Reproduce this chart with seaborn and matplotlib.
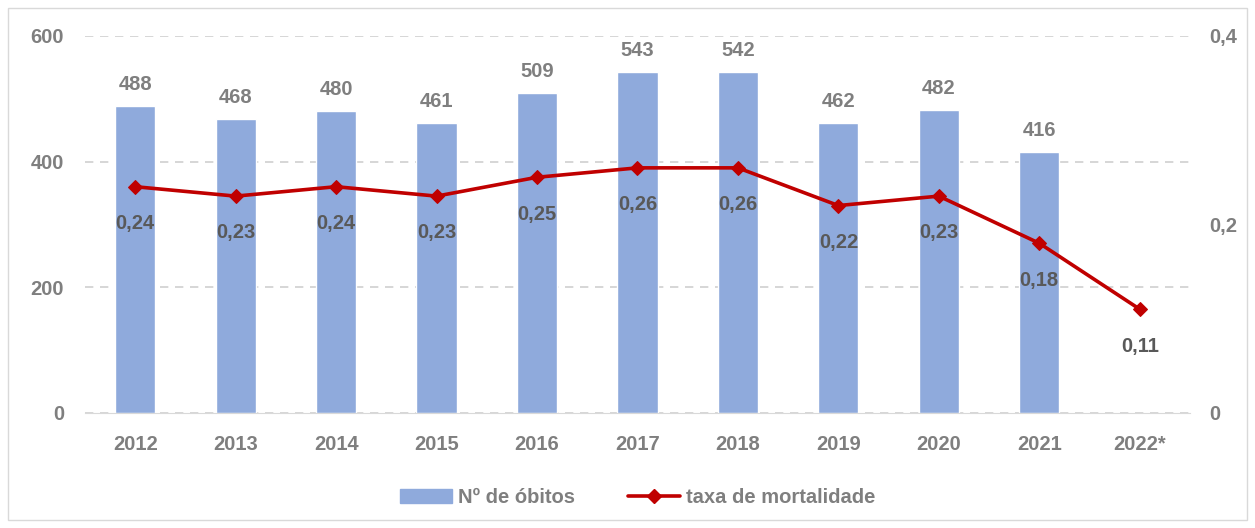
import matplotlib.pyplot as plt
import seaborn as sns
import pandas as pd
from matplotlib.patches import Rectangle
from matplotlib.lines import Line2D

anos = ["2012", "2013", "2014", "2015", "2016", "2017", "2018", "2019", "2020", "2021", "2022*"]
obitos = [488, 468, 480, 461, 509, 543, 542, 462, 482, 416, None]
taxa = [0.24, 0.23, 0.24, 0.23, 0.25, 0.26, 0.26, 0.22, 0.23, 0.18, 0.11]

bar_color = "#8FAADC"
line_color = "#C00000"
tick_gray = "#7F7F7F"
label_gray = "#595959"

sns.set_style("white")
plt.rcParams["font.family"] = ["Liberation Sans", "DejaVu Sans"]
plt.rcParams["font.weight"] = "bold"

df = pd.DataFrame({"ano": anos, "obitos": obitos, "taxa": taxa})

fig = plt.figure(figsize=(12.55, 5.28), dpi=100)
ax = fig.add_axes([0.0677, 0.218, 0.8805, 0.714])

sns.barplot(data=df, x="ano", y="obitos", color=bar_color, width=0.4,
            saturation=1, ax=ax, order=anos)
ax.set_ylim(0, 600)
ax.set_yticks([0, 200, 400, 600])
ax.set_xlim(-0.5, len(anos) - 0.5)
ax.grid(axis="y", color="#D0D0D0", linestyle=(0, (5, 4)), linewidth=1.2)
ax.set_axisbelow(True)
for s in ["top", "right", "left"]:
    ax.spines[s].set_visible(False)
ax.spines["bottom"].set_color("#D9D9D9")
ax.set_xlabel("")
ax.set_ylabel("")
ax.tick_params(axis="both", length=0, labelsize=14.5, labelcolor=tick_gray, pad=16)
ax.tick_params(axis="y", pad=15)

for i, v in enumerate(obitos):
    if v is not None:
        ax.text(i, v + 19, str(v), ha="center", va="bottom", fontsize=14.5,
                color=tick_gray, fontweight="bold")

ax2 = ax.twinx()
sns.lineplot(x=list(range(len(anos))), y=taxa, ax=ax2, color=line_color,
             linewidth=2.6, marker="D", markersize=7, markeredgecolor=line_color)
ax2.set_ylim(0, 0.4)
ax2.set_yticks([0, 0.2, 0.4])
ax2.set_yticklabels(["0", "0,2", "0,4"])
ax2.tick_params(axis="y", length=0, labelsize=14.5, labelcolor=tick_gray, pad=14)
for s in ax2.spines.values():
    s.set_visible(False)

for i, t in enumerate(taxa):
    ax2.text(i, t - 0.029, f"{t:.2f}".replace(".", ","), ha="center", va="top",
             fontsize=14.5, color=label_gray, fontweight="bold")

handles = [Rectangle((0, 0), 1, 1, color=bar_color),
           Line2D([0], [0], color=line_color, linewidth=2.6, marker="D", markersize=7)]
fig.legend(handles, ["Nº de óbitos", "taxa de mortalidade"], loc="center",
           bbox_to_anchor=(0.508, 0.058), ncol=2, frameon=False, fontsize=14.5,
           labelcolor=tick_gray, handlelength=2.6, handletextpad=0.3,
           columnspacing=2.6)

fig.patches.append(Rectangle((0.006, 0.015), 0.988, 0.97, transform=fig.transFigure,
                             fill=False, edgecolor="#D9D9D9", linewidth=1))

fig.savefig("out.png", dpi=100)
